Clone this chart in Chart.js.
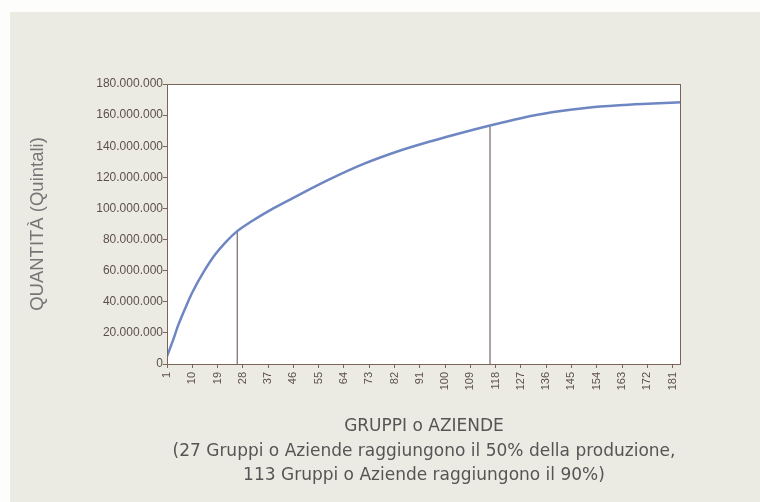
<!DOCTYPE html>
<html lang="it">
<head>
<meta charset="UTF-8">
<title>Quantità cumulata per gruppi o aziende</title>
<script src="https://cdn.jsdelivr.net/npm/chart.js"></script>
<style>
  html, body { margin: 0; padding: 0; background: #fdfdfb; }
</style>
</head>
<body>
<canvas id="curveChart" width="760" height="502"></canvas>
<script>
// punti: n. di gruppi o aziende -> quantità cumulata (quintali)
const companies = [1, 3, 5, 8, 10, 14, 18, 22, 26, 31, 39, 47, 59, 71, 83, 95, 103, 116, 127, 138, 150, 162, 174, 184];
const quantity = [5e6, 14.5e6, 25e6, 38e6, 46e6, 59e6, 70e6, 78.5e6, 85.4e6, 91.6e6, 100.2e6, 107.8e6, 118.8e6,
                  128.6e6, 136.6e6, 143.2e6, 147.2e6, 153.3e6, 158e6, 161.8e6, 164.6e6, 166.3e6, 167.4e6, 168.3e6];

// etichette dell'asse x
const xTicks = [1, 10, 19, 28, 37, 46, 55, 64, 73, 82, 91, 100, 109, 118, 127, 136, 145, 154, 163, 172, 181];

// linee verticali (50% e 90% della produzione)
const markerCompanies = [26, 116];
const markerQuantity = [85.4e6, 153.3e6];

const fmtIt = v => String(Math.round(v)).replace(/\B(?=(\d{3})+(?!\d))/g, '.');

const frameColor = '#7d6459';
const tickColor = '#5d504b';

const backdrop = {
    id: 'backdrop',
    beforeDraw(chart) {
        const { ctx, chartArea: a } = chart;
        ctx.save();
        ctx.fillStyle = '#ecebe3';
        ctx.fillRect(10, 12, chart.width - 10, chart.height - 12);
        ctx.fillStyle = '#ffffff';
        ctx.fillRect(a.left, a.top, a.right - a.left, a.bottom - a.top);
        ctx.restore();
    },
    afterDatasetsDraw(chart) {
        const { ctx, chartArea: a } = chart;
        ctx.save();
        ctx.strokeStyle = frameColor;
        ctx.lineWidth = 1;
        ctx.strokeRect(a.left + 0.5, a.top + 0.5, a.right - a.left - 1, a.bottom - a.top);
        ctx.restore();
    }
};

const datasets = [{
    data: companies.map((c, i) => ({ x: c, y: quantity[i] })),
    borderColor: '#6e86c2',
    borderWidth: 2.5,
    pointRadius: 0,
    cubicInterpolationMode: 'monotone',
    fill: false
}];

markerCompanies.forEach((c, i) => {
    datasets.push({
        data: [{ x: c, y: 0 }, { x: c, y: markerQuantity[i] }],
        borderColor: '#5a4a48',
        borderWidth: 1,
        pointRadius: 0,
        fill: false
    });
});

const ctx = document.getElementById('curveChart').getContext('2d');
new Chart(ctx, {
    type: 'line',
    data: { datasets: datasets },
    plugins: [backdrop],
    options: {
        responsive: false,
        animation: false,
        layout: { padding: { left: 27, right: 79, top: 84, bottom: 14 } },
        plugins: { legend: { display: false }, tooltip: { enabled: false } },
        scales: {
            x: {
                type: 'linear',
                min: 1,
                max: 184,
                afterBuildTicks: scale => { scale.ticks = xTicks.map(v => ({ value: v })); },
                afterFit: scale => { scale.height = 124; },
                border: { display: false },
                grid: { drawOnChartArea: false, drawTicks: true, tickLength: 4, color: frameColor },
                ticks: {
                    autoSkip: false,
                    minRotation: 90,
                    maxRotation: 90,
                    padding: 4,
                    color: tickColor,
                    font: { family: '"Liberation Sans", Arial, sans-serif', size: 11 },
                    callback: v => String(v)
                },
                title: {
                    display: true,
                    text: ['GRUPPI o AZIENDE',
                           '(27 Gruppi o Aziende raggiungono il 50% della produzione,',
                           '113 Gruppi o Aziende raggiungono il 90%)'],
                    color: '#555555',
                    padding: { top: 0, bottom: 0 },
                    font: { family: '"DejaVu Sans", sans-serif', size: 17, lineHeight: 1.441 }
                }
            },
            y: {
                min: 0,
                max: 180000000,
                afterFit: scale => { scale.width = 140; },
                border: { display: false },
                grid: { drawOnChartArea: false, drawTicks: true, tickLength: 4, color: frameColor },
                ticks: {
                    stepSize: 20000000,
                    padding: 0,
                    color: tickColor,
                    font: { family: '"Liberation Sans", Arial, sans-serif', size: 12 },
                    callback: v => fmtIt(v)
                },
                title: {
                    display: true,
                    text: 'QUANTITÀ (Quintali)',
                    color: '#767676',
                    padding: { top: 0, bottom: 0 },
                    font: { family: '"Liberation Sans", Arial, sans-serif', size: 18.5, lineHeight: 1.2 }
                }
            }
        }
    }
});
</script>
</body>
</html>
